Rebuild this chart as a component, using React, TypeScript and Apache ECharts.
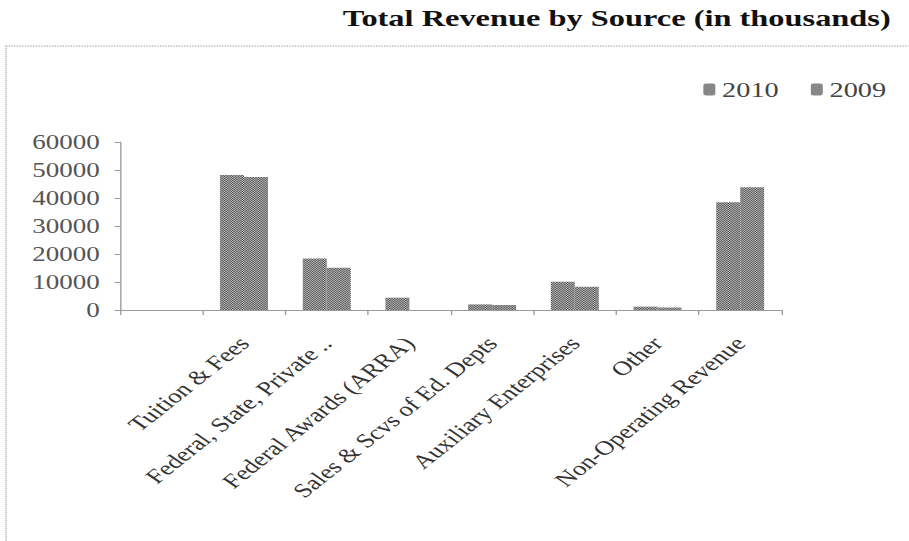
import React, { useEffect, useRef } from "react";
import * as echarts from "echarts";

const categories = [
  "",
  "Tuition & Fees",
  "Federal, State, Private ..",
  "Federal Awards (ARRA)",
  "Sales & Scvs of Ed. Depts",
  "Auxiliary Enterprises",
  "Other",
  "Non-Operating Revenue",
];
const values2010 = [0, 48200, 18400, 4400, 2000, 10100, 1200, 38500];
const values2009 = [0, 47500, 15100, 0, 1800, 8300, 900, 43800];
const seriesNames = ["2010", "2009"];
const yTicks = { min: 0, max: 60000, interval: 10000 };

const S = 1.35; // horizontal stretch of the whole picture
const W = 909 / S;
const H = 541;
const SERIF = "Liberation Serif";

function makePattern(dark: string, light: string) {
  const c = document.createElement("canvas");
  c.width = 4;
  c.height = 4;
  const ctx = c.getContext("2d")!;
  ctx.fillStyle = light;
  ctx.fillRect(0, 0, 4, 4);
  ctx.fillStyle = dark;
  for (let x = 0; x < 4; x++)
    for (let y = 0; y < 4; y++) if ((x + y) % 2 === 0) ctx.fillRect(x, y, 1, 1);
  return { image: c.toDataURL(), repeat: "repeat", imageWidth: 4, imageHeight: 4 };
}

export default function App() {
  const ref = useRef<HTMLDivElement>(null);
  useEffect(() => {
    if (!ref.current) return;
    const chart = echarts.init(ref.current, null, { renderer: "svg" });
    const pat = makePattern("#424242", "#cccccc");
    chart.setOption({
      animation: false,
      backgroundColor: "#ffffff",
      textStyle: { fontFamily: SERIF },
      title: {
        text: "Total Revenue by Source (in thousands)",
        left: 336 / S,
        top: 1,
        textStyle: { fontFamily: SERIF, fontSize: 24, fontWeight: "bold", color: "#111" },
      },
      legend: {
        data: seriesNames,
        left: 516,
        top: 74,
        itemWidth: 12 / S,
        itemHeight: 12,
        itemGap: 32 / S,
        textStyle: { fontFamily: SERIF, fontSize: 21, color: "#444" },
      },
      graphic: [
        {
          type: "rect",
          shape: { x: 6 / S, y: 46, width: W + 20, height: H + 20 },
          style: { fill: "none", stroke: "#9a9a9a", lineWidth: 1, lineDash: [1, 1] },
          silent: true,
        },
      ],
      grid: { left: 120 / S, right: W - 782 / S, top: 142, bottom: H - 310, containLabel: false },
      xAxis: {
        type: "category",
        data: categories,
        axisLine: { lineStyle: { color: "#9a9a9a", width: 1 } },
        axisTick: { show: true, alignWithLabel: false, length: 5, lineStyle: { color: "#9a9a9a" } },
        axisLabel: {
          interval: 0,
          rotate: 47,
          margin: 30,
          fontFamily: SERIF,
          fontSize: 20,
          color: "#333",
        },
      },
      yAxis: {
        type: "value",
        min: yTicks.min,
        max: yTicks.max,
        interval: yTicks.interval,
        splitLine: { show: false },
        axisLine: { show: true, lineStyle: { color: "#9a9a9a", width: 1 } },
        axisTick: { show: true, length: 4, lineStyle: { color: "#9a9a9a" } },
        axisLabel: {
          margin: 15,
          fontFamily: SERIF,
          fontSize: 20,
          color: "#555",
          formatter: (v: number) => String(v),
        },
      },
      series: [
        {
          name: seriesNames[0],
          type: "bar",
          data: values2010,
          barGap: "0%",
          barCategoryGap: "42%",
          itemStyle: { color: pat },
        },
        {
          name: seriesNames[1],
          type: "bar",
          data: values2009,
          barGap: "0%",
          barCategoryGap: "42%",
          itemStyle: { color: pat },
        },
      ],
    });
    return () => chart.dispose();
  }, []);
  return (
    <div
      style={{
        position: "fixed",
        left: 0,
        top: 0,
        width: W,
        height: H,
        transform: `scaleX(${S})`,
        transformOrigin: "0 0",
        background: "#fff",
      }}
    >
      <div ref={ref} style={{ width: W, height: H }} />
    </div>
  );
}
